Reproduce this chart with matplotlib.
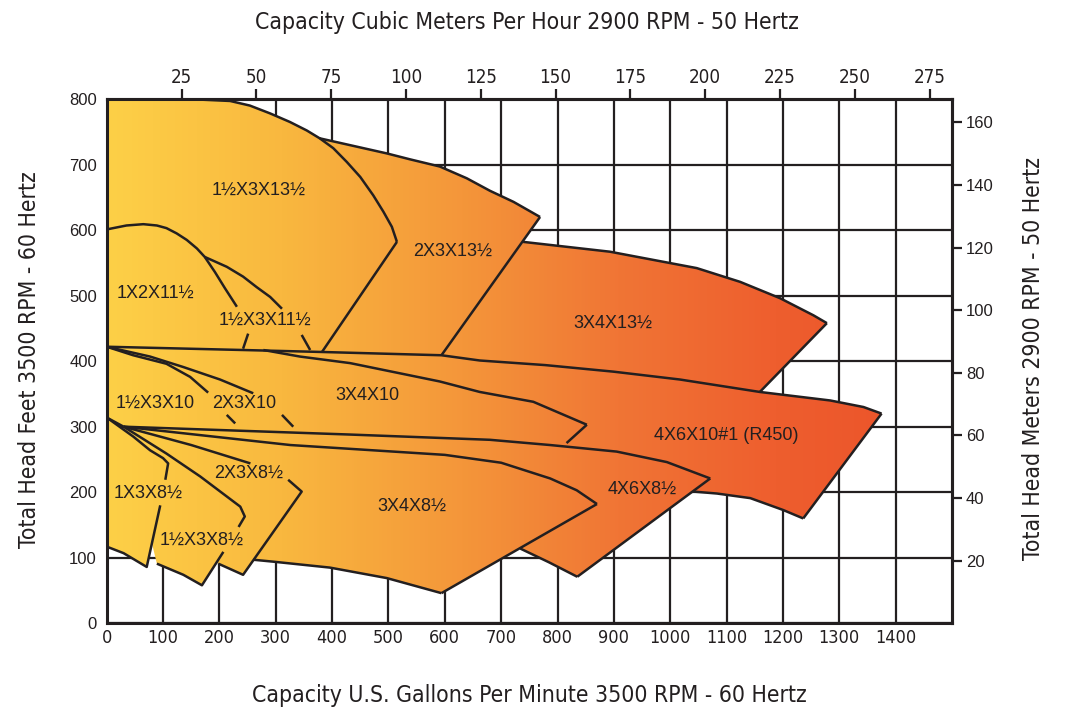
import numpy as np
import matplotlib
matplotlib.use('Agg')
import matplotlib.pyplot as plt
from matplotlib import font_manager as fm
from matplotlib.patches import Polygon
from matplotlib.colors import LinearSegmentedColormap

# all curves: (capacity gpm @3500 rpm, head ft @3500 rpm)
# 1 1/2 x 3 x 13 1/2
a_top = [(0, 800), (130, 800.5), (219, 797), (254, 790), (290, 778), (325, 765),
         (355, 752), (378, 740), (402, 725), (426, 704), (450, 681), (473, 653),
         (491, 628), (506, 605), (515, 582)]
a_right = [(515, 582), (382, 414)]
# 2 x 3 x 13 1/2
b_top = [(378, 740), (497, 717), (538, 708), (591, 697), (639, 679), (680, 660),
         (722, 643), (769, 620)]
b_right = [(769, 620), (594, 409)]
# 3 x 4 x 13 1/2
c_top = [(739, 582), (893, 567), (1047, 542), (1124, 521), (1195, 496),
         (1254, 470), (1278, 458)]
c_right = [(1278, 458), (1159, 353)]
# long top line of the 10" group / 4x6x10 #1 (R450)
head_422 = [(0, 422), (242, 417), (382, 414), (594, 409), (662, 401), (778, 394),
            (899, 384), (1017, 372), (1159, 353), (1284, 340), (1343, 330), (1375, 320)]
r450_right = [(1375, 320), (1236, 160)]
r450_bottom = [(1236, 160), (1200, 173), (1142, 191), (1083, 198), (1041, 201)]
# 11 1/2 group
x1x2_top = [(0, 601), (35, 607), (65, 609), (89, 607), (106, 603), (124, 595),
            (142, 585), (160, 572), (174, 559), (192, 536), (210, 511), (231, 483)]
x1x2_low = [(251, 442), (242, 419)]
x15x3_11_top = [(174, 559), (213, 544), (242, 529), (266, 513), (290, 498), (311, 480)]
x15x3_11_low = [(346, 440), (361, 417)]
# 10 group
x15x3_10_top = [(0, 422), (47, 409), (106, 396), (148, 376), (180, 352)]
x15x3_10_low = [(213, 318), (228, 305)]
x2x3_10_top = [(0, 422), (77, 407), (136, 391), (201, 372), (260, 351)]
x2x3_10_low = [(311, 318), (331, 300)]
x3x4_10_top = [(278, 417), (343, 407), (432, 397), (591, 369), (662, 353),
               (757, 338), (852, 303)]
x3x4_10_right = [(852, 303), (816, 275)]
# 8 1/2 group
p0 = (0, 314)
p1 = (30, 300)
x4x6_8_top = [(30, 300), (432, 288), (680, 280), (787, 272), (905, 262), (994, 246), (1071, 221)]
x4x6_8_right = [(1071, 221), (835, 71)]
x4x6_8_bottom = [(835, 71), (785, 93), (734, 114)]
x3x4_8_top = [(30, 300), (326, 272), (600, 257), (700, 245), (787, 221), (834, 203), (870, 182)]
x3x4_8_right = [(870, 182), (594, 46)]
x3x4_8_bottom = [(594, 46), (497, 69), (396, 85), (296, 94), (260, 97)]
x2x3_8_top = [(30, 300), (150, 272), (255, 244)]
x2x3_8_tip = [(322, 219), (346, 201), (242, 74), (198, 91)]
x15x3_8_top = [(30, 300), (106, 259), (166, 224), (237, 178), (245, 163), (234, 147)]
x15x3_8_low = [(207, 109), (169, 58), (136, 74), (89, 91)]
x1x3_8_top = [(0, 314), (47, 285), (77, 264), (100, 252), (109, 244), (104, 219)]
x1x3_8_low = [(95, 180), (71, 86), (30, 107), (0, 117)]

labels = [('1½X3X13½', 269, 660), ('2X3X13½', 613, 568), ('3X4X13½', 899, 458),
          ('1X2X11½', 86, 504), ('1½X3X11½', 281, 463), ('1½X3X10', 86, 336),
          ('2X3X10', 244, 336), ('3X4X10', 462, 347), ('4X6X10#1 (R450)', 1099, 287),
          ('1X3X8½', 74, 199), ('2X3X8½', 251, 229), ('1½X3X8½', 169, 127),
          ('3X4X8½', 542, 179), ('4X6X8½', 950, 205)]

gpm_ticks = list(range(0, 1500, 100))
ft_ticks = list(range(0, 900, 100))
m3h_ticks = list(range(25, 300, 25))
m_ticks = list(range(20, 180, 20))

GPM_PER_M3H = 5.31      # m3/h @2900 rpm -> gpm @3500 rpm
M_PER_FT = 0.2093       # ft @3500 rpm -> m @2900 rpm

ink = '#231f20'
plain = ['Liberation Sans', 'DejaVu Sans']


def find_narrow():
    best = None
    for f in fm.fontManager.ttflist:
        if f.style != 'normal':
            continue
        nm = f.name.lower()
        cond = ('narrow' in nm or 'condensed' in nm or
                str(f.stretch) in ('condensed', 'semi-condensed', 'extra-condensed'))
        if not cond:
            continue
        w = f.weight if isinstance(f.weight, int) else 400
        score = abs(w - 450)
        if best is None or score < best[0]:
            best = (score, f.fname)
    return best[1] if best else None


narrow_file = find_narrow()


def narrow(size):
    if narrow_file:
        return fm.FontProperties(fname=narrow_file, size=size)
    return fm.FontProperties(family='DejaVu Sans', size=size * 0.82)


fig = plt.figure(figsize=(10.65, 7.19), dpi=100)
ax = fig.add_axes([0.1002, 0.1331, 0.7937, 0.7292])
ax.set_xlim(0, 1500)
ax.set_ylim(0, 800)
ax.set_xticks(gpm_ticks)
ax.set_xticklabels([str(t) for t in gpm_ticks], fontproperties=narrow(13))
ax.set_yticks(ft_ticks)
ax.set_yticklabels([str(t) for t in ft_ticks], family=plain, fontsize=12)
ax.tick_params(axis='x', length=0, pad=4, colors=ink)
ax.tick_params(axis='y', length=0, pad=7, colors=ink)
ax.grid(True, color=ink, lw=1.6)
ax.set_axisbelow(True)
for s in ax.spines.values():
    s.set_linewidth(2.2)
    s.set_color(ink)

# fill polygons (hidden joins are inside neighbouring regions)
fills = [
    a_top + a_right + [(242, 417), (0, 422)],
    b_top + b_right + [(382, 414), (515, 582)],
    c_top + c_right + [(899, 384), (662, 401), (594, 409)],
    head_422 + r450_right + r450_bottom + [(1000, 235), (700, 265), p1, p0],
    x4x6_8_top + x4x6_8_bottom + [(600, 150)],
    x3x4_8_top + x3x4_8_right + x3x4_8_bottom + [(200, 150)],
    x2x3_8_top + x2x3_8_tip,
    x15x3_8_top + x15x3_8_low,
    x1x3_8_top + x1x3_8_low,
]
cmap = LinearSegmentedColormap.from_list('pump', [
    (0.0, '#fdd047'), (0.22, '#f9b83f'), (0.45, '#f4963a'),
    (0.65, '#f07535'), (0.85, '#ee5e2e'), (1.0, '#ec552b')])
grad = np.linspace(0, 1, 400).reshape(1, -1)
for poly in fills:
    patch = Polygon(poly, closed=True, fc='none', ec='none')
    ax.add_patch(patch)
    im = ax.imshow(grad, cmap=cmap, aspect='auto', extent=(0, 1400, 0, 800),
                   origin='lower', zorder=2, interpolation='bilinear')
    im.set_clip_path(patch)
ax.set_xlim(0, 1500)
ax.set_ylim(0, 800)

lines = [a_top, a_right, b_top, b_right, c_top, c_right, head_422, r450_right,
         r450_bottom, x1x2_top, x1x2_low, x15x3_11_top, x15x3_11_low,
         x15x3_10_top, x15x3_10_low, x2x3_10_top, x2x3_10_low, x3x4_10_top,
         x3x4_10_right, [p0, p1], x4x6_8_top, x4x6_8_right, x4x6_8_bottom,
         x3x4_8_top, x3x4_8_right, x3x4_8_bottom, x2x3_8_top, x2x3_8_tip,
         x15x3_8_top, x15x3_8_low, x1x3_8_top, x1x3_8_low]
for ln in lines:
    xs, ys = zip(*ln)
    ax.plot(xs, ys, color=ink, lw=1.8, zorder=3, solid_capstyle='butt',
            solid_joinstyle='round')

for txt, x, y in labels:
    ax.text(x, y, txt, family=plain, fontsize=13, color=ink, ha='center',
            va='center', zorder=4)

top = ax.secondary_xaxis('top', functions=(lambda g: g / GPM_PER_M3H,
                                           lambda m: m * GPM_PER_M3H))
top.set_xticks(m3h_ticks)
top.set_xticklabels([str(t) for t in m3h_ticks], fontproperties=narrow(13.5))
top.tick_params(length=7.5, width=1.6, colors=ink, pad=1)
top.spines['top'].set_linewidth(2.2)

right = ax.secondary_yaxis('right', functions=(lambda f: f * M_PER_FT,
                                              lambda m: m / M_PER_FT))
right.set_yticks(m_ticks)
right.set_yticklabels([str(t) for t in m_ticks], family=plain, fontsize=12)
right.tick_params(length=7, width=1.6, colors=ink, pad=3)
right.spines['right'].set_linewidth(2.2)

fig.text(0.495, 0.969, 'Capacity Cubic Meters Per Hour 2900 RPM - 50 Hertz',
         fontproperties=narrow(16.5), color=ink, ha='center', va='center')
fig.text(0.497, 0.032, 'Capacity U.S. Gallons Per Minute 3500 RPM - 60 Hertz',
         fontproperties=narrow(16.5), color=ink, ha='center', va='center')
fig.text(0.028, 0.5, 'Total Head Feet 3500 RPM - 60 Hertz', fontproperties=narrow(16.5),
         color=ink, ha='center', va='center', rotation=90)
fig.text(0.970, 0.501, 'Total Head Meters 2900 RPM - 50 Hertz', fontproperties=narrow(16.5),
         color=ink, ha='center', va='center', rotation=90)

fig.savefig('out.png', dpi=100, facecolor='white')
